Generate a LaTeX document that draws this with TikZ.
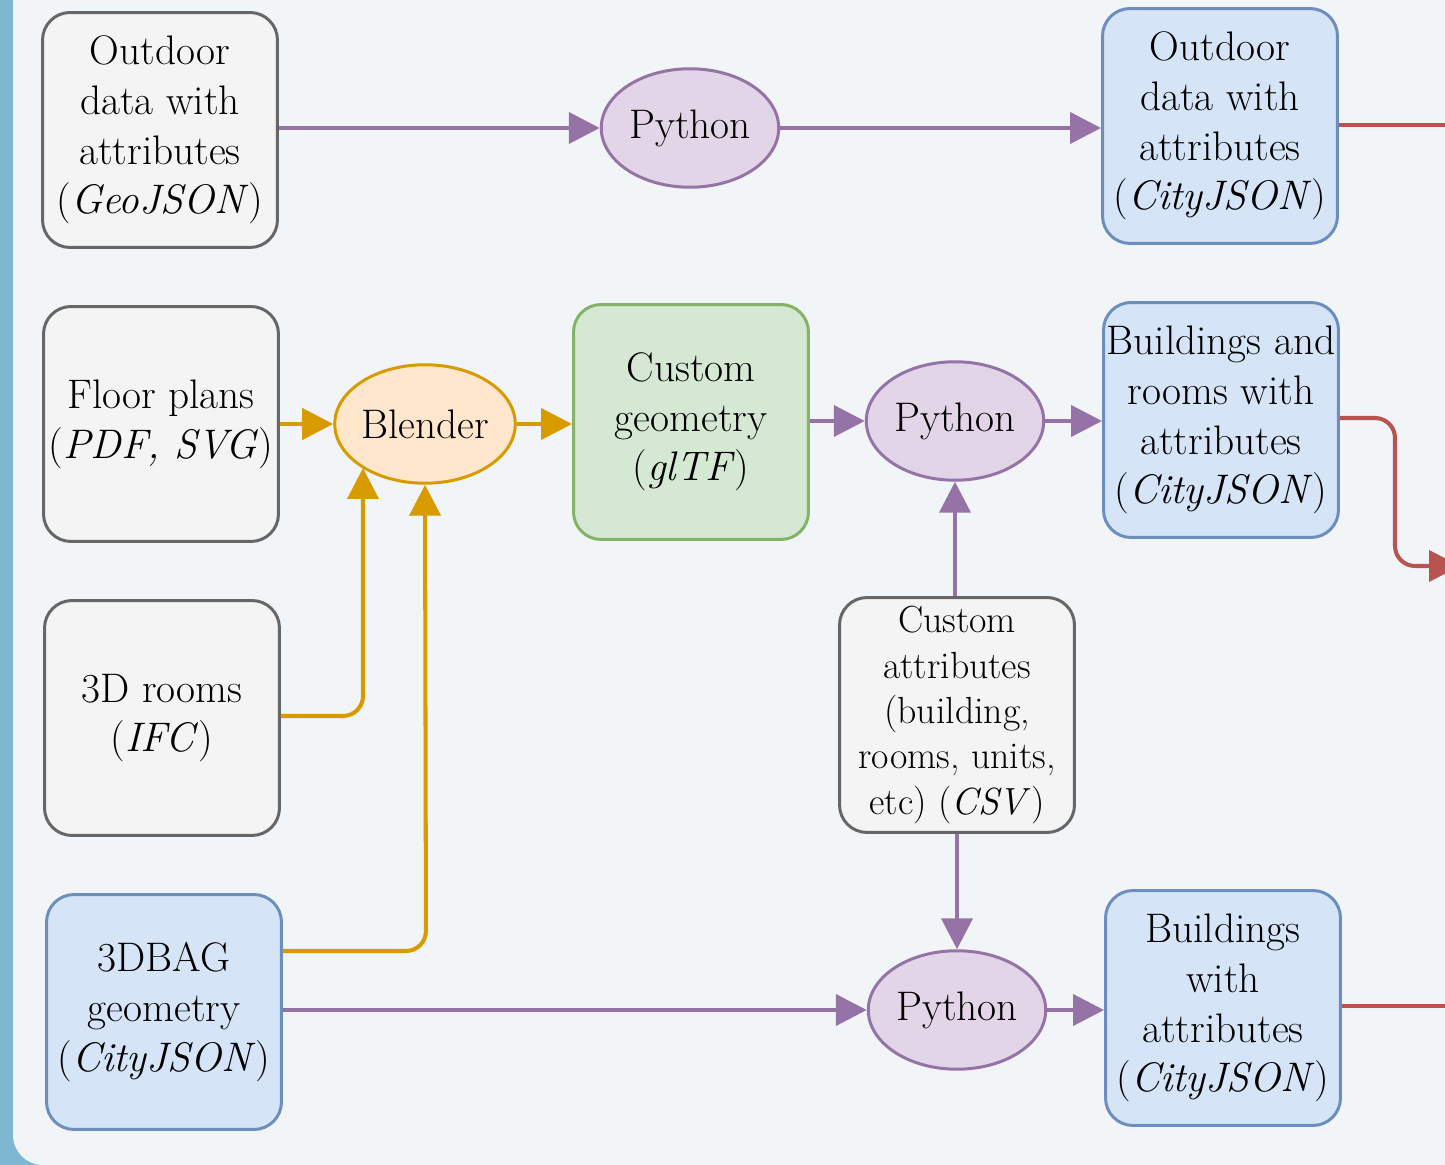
\documentclass[tikz,border=0pt]{standalone}
\usetikzlibrary{arrows.meta,shapes.geometric}

\definecolor{cardbg}{HTML}{F1F5F8}
\definecolor{stripbg}{HTML}{7DB8D0}
\definecolor{grayfill}{HTML}{F4F4F4}
\definecolor{grayline}{HTML}{666666}
\definecolor{bluefill}{HTML}{D6E4F8}
\definecolor{blueline}{HTML}{6C8EBF}
\definecolor{greenfill}{HTML}{D5E8D4}
\definecolor{greenline}{HTML}{82B366}
\definecolor{purplefill}{HTML}{E1D5E7}
\definecolor{purpleline}{HTML}{9673A6}
\definecolor{orangefill}{HTML}{FFE6CC}
\definecolor{orangeline}{HTML}{D79B00}
\definecolor{redline}{HTML}{B85450}

\begin{document}
\begin{tikzpicture}[x=0.02cm,y=-0.02cm,
    every node/.style={font=\fontsize{23.5}{28.3}\selectfont, align=center},
    box/.style={draw=grayline, fill=grayfill, line width=1.7pt, rounded corners=0.55cm,
      minimum width=4.7cm, minimum height=4.7cm, inner sep=0pt},
    bluebox/.style={box, draw=blueline, fill=bluefill},
    greenbox/.style={box, draw=greenline, fill=greenfill},
    tool/.style={ellipse, draw=purpleline, fill=purplefill, line width=1.7pt,
      minimum width=3.55cm, minimum height=2.37cm, inner sep=0pt},
    blender/.style={tool, draw=orangeline, fill=orangefill},
    flow/.style={line width=2.3pt, -{Triangle[length=0.62cm,width=0.62cm]}},
    pflow/.style={flow, draw=purpleline},
    oflow/.style={flow, draw=orangeline, rounded corners=0.4cm},
    rflow/.style={flow, draw=redline, rounded corners=0.4cm}]

    \useasboundingbox (0,0) rectangle (1445,1165);
    % background card
    \fill[stripbg] (0,0) rectangle (1445,1165);
    \fill[cardbg, rounded corners=0.6cm] (13,-40) rectangle (1500,1165);
    \fill[cardbg] (40,-40) rectangle (1500,1165);

    % sources
    \node[box] (geojson) at (160,130) {Outdoor\\ data with\\ attributes\\ (\textit{GeoJSON})};
    \node[box] (plans) at (161,424) {Floor plans\\ (\textit{PDF, SVG})};
    \node[box] (rooms) at (162,718) {3D rooms\\ (\textit{IFC})};
    \node[bluebox] (bag) at (164,1012) {3DBAG\\ geometry\\ (\textit{CityJSON})};

    % tools
    \node[tool] (pyA) at (690,128) {Python};
    \node[blender] (blender) at (425,424) {Blender};
    \node[greenbox] (gltf) at (691,422) {Custom\\ geometry\\ (\textit{glTF})};
    \node[tool] (pyB) at (955,421) {Python};
    \node[box, font=\fontsize{21.5}{25.8}\selectfont] (attrs) at (957,715)
      {Custom\\ attributes\\ (building,\\ rooms, units,\\ etc) (\textit{CSV})};
    \node[tool] (pyC) at (957,1010) {Python};

    % outputs
    \node[bluebox] (outdoor) at (1220,126) {Outdoor\\ data with\\ attributes\\ (\textit{CityJSON})};
    \node[bluebox] (bldrooms) at (1221,420) {Buildings and\\ rooms with\\ attributes\\ (\textit{CityJSON})};
    \node[bluebox] (bldattr) at (1223,1008) {Buildings\\ with\\ attributes\\ (\textit{CityJSON})};

    \coordinate (outA) at (1470,125);
    \coordinate (outB) at (1460,566);
    \coordinate (outC) at (1470,1006);

    % connectors
    \draw[pflow] (geojson.east |- pyA) -- (pyA);
    \draw[pflow] (pyA) -- (outdoor.west |- pyA);
    \draw[oflow] (plans.east |- blender) -- (blender);
    \draw[oflow] (blender) -- (gltf.west |- blender);
    \draw[oflow] (rooms.east |- 0,716) -- (363,716) -- (363,468);
    \draw[oflow] (bag.east |- 0,951) -- (426,951) -- (blender.south);
    \draw[pflow] (gltf.east |- pyB) -- (pyB);
    \draw[pflow] (pyB) -- (bldrooms.west |- pyB);
    \draw[pflow] (attrs.north -| pyB) -- (pyB);
    \draw[pflow] (attrs) -- (pyC);
    \draw[pflow] (bag.east |- pyC) -- (pyC);
    \draw[pflow] (pyC) -- (bldattr.west |- pyC);
    \draw[line width=2.3pt, redline] (outdoor.east |- outA) -- (outA);
    \draw[rflow] (bldrooms.east |- 0,418) -- (1395,418) -- (1395,566) -- (outB);
    \draw[line width=2.3pt, redline] (bldattr.east |- outC) -- (outC);
\end{tikzpicture}
\end{document}
